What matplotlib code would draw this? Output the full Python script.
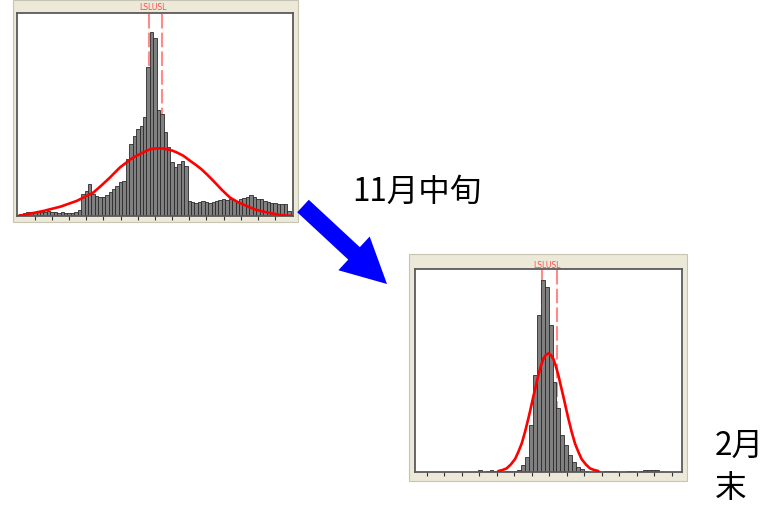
import numpy as np
import matplotlib
matplotlib.use("Agg")
import matplotlib.pyplot as plt
from matplotlib.patches import Rectangle, FancyArrow

plt.rcParams['font.family'] = ['Noto Sans CJK JP', 'DejaVu Sans']

W, H = 767, 505

# ---- 11月中旬 histogram (bin width 0.2, first bin centre -7.8) ----
nov_start, nov_width = -7.8, 0.2
nov_counts = [5, 8, 12, 13, 13, 13, 12, 13, 14, 13,
              11, 10, 11, 10, 10, 10, 12, 17, 65, 75,
              95, 65, 60, 58, 58, 62, 72, 80, 90, 100,
              105, 170, 215, 240, 260, 270, 295, 445, 548, 530,
              315, 305, 250, 205, 160, 145, 155, 165, 150, 45,
              42, 40, 42, 44, 42, 40, 43, 46, 48, 50,
              48, 50, 48, 46, 50, 55, 58, 63, 56, 52,
              50, 45, 42, 40, 40, 37, 36, 35, 15]
# normal fit curve
nov_fit_x = [-7.96, -6.50, -5.50, -4.56, -3.59, -3.10, -2.62, -2.04, -1.65,
             -1.40, -1.17, -0.68, -0.43, -0.19, 0.05, 0.29, 0.53, 0.78,
             1.02, 1.26, 1.65, 2.04, 2.37, 2.70, 3.05, 3.40, 3.90,
             4.37, 4.85, 5.34, 5.80, 6.31, 7.28, 7.96]
nov_fit_y = [0, 15, 28, 45, 70, 92, 115, 145, 160,
             170, 177, 190, 196, 200, 201.5, 202, 201, 198,
             195, 190, 180, 165, 153, 140, 123, 105, 78,
             55, 41, 30, 20, 13, 3, 0]
nov_spec = [-0.33, 0.39]

# ---- 2月末 histogram (bin width 0.225, first bin centre -3.964) ----
feb_start, feb_width = -3.964, 0.225
feb_counts = [4, 0, 3, 4, 2, 0, 0, 2, 3, 3,
              5, 20, 45, 140, 290, 470, 575, 555, 440, 270,
              190, 110, 80, 50, 30, 15, 8, 3, 0, 0,
              2, 0, 3, 3, 2, 0, 0, 0, 3, 2,
              0, 3, 4, 4, 5, 4]
feb_fit_x = [-2.90, -2.66, -2.42, -2.18, -1.94, -1.75, -1.56, -1.37, -1.18,
             -1.04, -0.90, -0.75, -0.61, -0.47, -0.33, -0.18, -0.04,
             0.10, 0.25, 0.39, 0.53, 0.67, 0.82, 0.96, 1.10, 1.29,
             1.48, 1.67, 1.86, 2.10, 2.34, 2.58, 2.82]
feb_fit_y = [2, 5, 10, 22, 38, 60, 85, 120, 160,
             192, 225, 258, 290, 316, 338, 350, 355,
             350, 338, 316, 290, 258, 225, 192, 160, 120,
             85, 60, 38, 22, 10, 5, 2]
feb_spec = [-0.42, 0.44]

ticks = np.arange(-7, 8)


def px_box(x0, y0, x1, y1):
    return [x0 / W, 1 - y1 / H, (x1 - x0) / W, (y1 - y0) / H]


def draw_hist(ax, start, width, counts, fit_x, fit_y, spec, xlim, ymax, label_x, label_y):
    counts = np.array(counts, dtype=float)
    centres = start + width * np.arange(len(counts))
    keep = counts > 0
    for s in spec:
        ax.axvline(s, color='#ff8a8a', lw=1.5, ls=(0, (7, 2)), zorder=1)
    ax.bar(centres[keep], counts[keep], width=width, color='#808080',
           edgecolor='#2b2b2b', linewidth=0.6, zorder=2)
    ax.plot(fit_x, fit_y, color='#ff0000', lw=1.9, zorder=3,
            solid_joinstyle='round', solid_capstyle='round')
    ax.text(label_x, label_y, 'LSLUSL', transform=ax.get_xaxis_transform(),
            ha='center', va='center', fontsize=5.5, color='#ff4a4a',
            family='DejaVu Sans', clip_on=False)
    ax.set_xlim(*xlim)
    ax.set_ylim(0, ymax)
    ax.set_facecolor('white')
    for sp in ax.spines.values():
        sp.set_color('#5a5a5a')
        sp.set_linewidth(1.3)
    ax.set_xticks(ticks)
    ax.set_yticks([])
    ax.tick_params(axis='x', direction='out', length=3, width=0.8,
                   color='#333333', labelbottom=False)


fig = plt.figure(figsize=(W / 100, H / 100), dpi=100)

# background layer in pixel units: grey window frames, arrow, captions
bg = fig.add_axes([0, 0, 1, 1])
bg.set_xlim(0, W)
bg.set_ylim(H, 0)
bg.axis('off')
bg.add_patch(Rectangle((13, 0), 285, 222, facecolor='#ece9d8', edgecolor='#c8c4b4', lw=0.8))
bg.add_patch(Rectangle((409, 254), 278, 227, facecolor='#ece9d8', edgecolor='#c8c4b4', lw=0.8))
bg.add_patch(FancyArrow(303, 206, 84, 78, width=17, head_width=46, head_length=45,
                        length_includes_head=True, color='#0000ff', lw=0))
bg.text(352, 192, '11月中旬', fontsize=22.7, color='black', ha='left', va='center')
bg.text(715, 446, '2月', fontsize=22.7, color='black', ha='left', va='center')
bg.text(715, 488, '末', fontsize=22.7, color='black', ha='left', va='center')

ax1 = fig.add_axes(px_box(17.3, 13.3, 293.3, 216))
draw_hist(ax1, nov_start, nov_width, nov_counts, nov_fit_x, nov_fit_y, nov_spec,
          (-8.02, 8.06), 605, -0.14, 1.03)

ax2 = fig.add_axes(px_box(415, 269.3, 681.7, 471.7))
draw_hist(ax2, feb_start, feb_width, feb_counts, feb_fit_x, feb_fit_y, feb_spec,
          (-7.66, 7.58), 607, -0.13, 1.021)

fig.savefig('out.png', dpi=100)
